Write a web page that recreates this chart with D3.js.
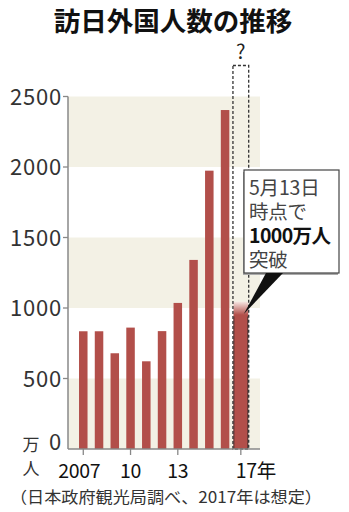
<!DOCTYPE html>
<html>
<head>
<meta charset="utf-8">
<script src="https://cdn.jsdelivr.net/npm/d3@7"></script>
<style>
  body { margin: 0; background: #fff; }
  svg { display: block; font-family: "Noto Sans CJK JP", "Noto Sans", sans-serif; }
</style>
</head>
<body>
<div id="chart"></div>
<script>
const years = [2007, 2008, 2009, 2010, 2011, 2012, 2013, 2014, 2015, 2016, 2017];
const visitors = [835, 835, 679, 861, 622, 836, 1036, 1341, 1974, 2404, 1000];
const projected2017 = 2720;
const yTicks = [0, 500, 1000, 1500, 2000, 2500];
const xTickLabels = { 2007: "2007", 2010: "10", 2013: "13", 2017: "17年" };
const calloutLines = ["5月13日", "時点で", "1000万人", "突破"];

(function() {
  const width = 349, height = 512;
  const barColor = "#b24f4a";
  const bandColor = "#f3f1e5";

  const svg = d3.select("#chart").append("svg")
    .attr("width", width)
    .attr("height", height);

  const x = d3.scaleBand()
    .domain(years)
    .range([75.4, 248.7])
    .paddingInner(0.46)
    .paddingOuter(0.23);

  const y = d3.scaleLinear()
    .domain([0, 2500])
    .range([449, 96.5]);

  const plotLeft = 68, plotRight = 260;

  // alternating background bands
  const bands = [[0, 500], [1000, 1500], [2000, 2500]];
  svg.selectAll(".band")
    .data(bands)
    .enter()
    .append("rect")
    .attr("x", plotLeft)
    .attr("width", plotRight - plotLeft)
    .attr("y", d => y(d[1]))
    .attr("height", d => y(d[0]) - y(d[1]))
    .attr("fill", bandColor);

  // title
  svg.append("text")
    .attr("x", 173)
    .attr("y", 31)
    .attr("text-anchor", "middle")
    .attr("font-size", "26.5px")
    .attr("font-weight", "bold")
    .attr("fill", "#111")
    .text("訪日外国人数の推移");

  // regular bars
  const past = years.slice(0, -1).map((yr, i) => ({ year: yr, value: visitors[i] }));
  svg.selectAll(".bar")
    .data(past)
    .enter()
    .append("rect")
    .attr("class", "bar")
    .attr("x", d => x(d.year))
    .attr("width", x.bandwidth())
    .attr("y", d => y(d.value))
    .attr("height", d => y(0) - y(d.value))
    .attr("fill", barColor);

  // 2017 bar (wider, fading top)
  const last = years[years.length - 1];
  const cx = x(last) + x.bandwidth() / 2;
  const wide = x.step() + 1;
  const grad = svg.append("defs").append("linearGradient")
    .attr("id", "fade")
    .attr("x1", 0).attr("y1", 0).attr("x2", 0).attr("y2", 1);
  grad.append("stop").attr("offset", "0%").attr("stop-color", "#f6e6e2");
  grad.append("stop").attr("offset", "9%").attr("stop-color", barColor);
  grad.append("stop").attr("offset", "100%").attr("stop-color", barColor);

  const topVal = visitors[visitors.length - 1] + 45;
  svg.append("rect")
    .attr("x", cx - wide / 2 + 1)
    .attr("width", wide - 2)
    .attr("y", y(topVal))
    .attr("height", y(0) - y(topVal))
    .attr("fill", "url(#fade)");
  [cx - wide / 2 + 1.5, cx + wide / 2 - 1.5].forEach(lx => {
    svg.append("line")
      .attr("x1", lx).attr("x2", lx)
      .attr("y1", y(visitors[visitors.length - 1] - 60)).attr("y2", y(0))
      .attr("stroke", "#5a3432")
      .attr("stroke-width", 1);
  });

  // dashed projection outline
  svg.append("rect")
    .attr("x", cx - wide / 2 + 0.5)
    .attr("width", wide - 1)
    .attr("y", y(projected2017))
    .attr("height", y(0) - y(projected2017))
    .attr("fill", "none")
    .attr("stroke", "#333")
    .attr("stroke-width", 1.3)
    .attr("stroke-dasharray", "3,2");

  svg.append("text")
    .attr("x", cx)
    .attr("y", y(projected2017) - 6)
    .attr("text-anchor", "middle")
    .attr("font-size", "20px")
    .attr("fill", "#222")
    .text("?");

  // y axis
  svg.append("line")
    .attr("x1", plotLeft).attr("x2", plotLeft)
    .attr("y1", y(2500)).attr("y2", y(0))
    .attr("stroke", "#888").attr("stroke-width", 1.5);

  svg.selectAll(".ytick")
    .data(yTicks.filter(d => d > 0))
    .enter()
    .append("line")
    .attr("x1", plotLeft - 5).attr("x2", plotLeft)
    .attr("y1", d => y(d)).attr("y2", d => y(d))
    .attr("stroke", "#888").attr("stroke-width", 1.3);

  svg.selectAll(".ylabel")
    .data(yTicks)
    .enter()
    .append("text")
    .attr("x", 62)
    .attr("y", d => d === 0 ? y(d) + 1 : y(d) + 8)
    .attr("text-anchor", "end")
    .attr("font-size", "22px")
    .attr("fill", "#333")
    .attr("letter-spacing", "0.8")
    .text(d => d);

  // unit label, stacked vertically
  svg.append("text")
    .attr("x", 31).attr("y", 451)
    .attr("text-anchor", "middle")
    .attr("font-size", "17px")
    .attr("fill", "#333")
    .text("万");
  svg.append("text")
    .attr("x", 31).attr("y", 475)
    .attr("text-anchor", "middle")
    .attr("font-size", "17px")
    .attr("fill", "#333")
    .text("人");

  // x axis
  svg.append("line")
    .attr("x1", plotLeft).attr("x2", plotRight)
    .attr("y1", y(0)).attr("y2", y(0))
    .attr("stroke", "#888").attr("stroke-width", 1.5);

  const tickYears = Object.keys(xTickLabels).map(Number);
  svg.selectAll(".xtick")
    .data(tickYears)
    .enter()
    .append("line")
    .attr("x1", d => x(d) + x.bandwidth() / 2)
    .attr("x2", d => x(d) + x.bandwidth() / 2)
    .attr("y1", y(0)).attr("y2", y(0) + 6)
    .attr("stroke", "#888").attr("stroke-width", 1.3);

  svg.selectAll(".xlabel")
    .data(tickYears)
    .enter()
    .append("text")
    .attr("x", d => x(d) + x.bandwidth() / 2 + (d === 2017 ? 15 : 0) - (d === 2007 ? 4 : 0))
    .attr("y", 478)
    .attr("text-anchor", "middle")
    .attr("font-size", "19.5px")
    .attr("fill", "#111")
    .attr("letter-spacing", "-0.3")
    .text(d => xTickLabels[d]);

  // source note
  svg.append("text")
    .attr("x", 10)
    .attr("y", 503)
    .attr("font-size", "16px")
    .attr("fill", "#333")
    .attr("textLength", 312)
    .attr("lengthAdjust", "spacingAndGlyphs")
    .text("（日本政府観光局調べ、2017年は想定）");

  // callout box
  const bx = 244, by = 170, bw = 95, bh = 103;
  svg.append("rect")
    .attr("x", bx - 1).attr("y", by + 2)
    .attr("width", bw).attr("height", bh)
    .attr("fill", "#aaa");
  svg.append("rect")
    .attr("x", bx).attr("y", by)
    .attr("width", bw).attr("height", bh)
    .attr("fill", "#fff")
    .attr("stroke", "#444")
    .attr("stroke-width", 1.2);
  svg.append("path")
    .attr("d", `M266,${by + bh} L283,${by + bh} L${cx + 3},${y(1000) + 6} Z`)
    .attr("fill", "#111");

  svg.selectAll(".callout")
    .data(calloutLines)
    .enter()
    .append("text")
    .attr("x", bx + 5)
    .attr("y", (d, i) => by + 25 + i * 24)
    .attr("font-size", "19.5px")
    .attr("font-weight", (d, i) => i === 2 ? "bold" : "normal")
    .attr("fill", (d, i) => i === 2 ? "#111" : "#444")
    .attr("letter-spacing", (d, i) => i === 2 ? "-0.6" : "-0.2")
    .text(d => d);
})();
</script>
</body>
</html>
